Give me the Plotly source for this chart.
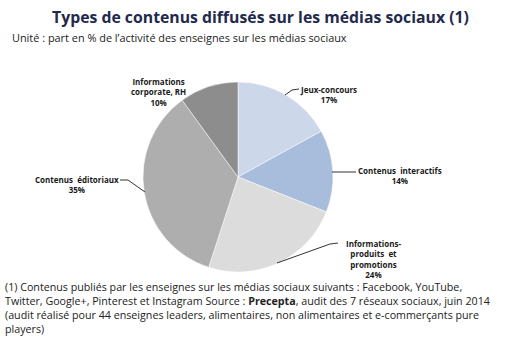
import plotly.graph_objects as go

categories = ["Jeux-concours", "Contenus interactifs", "Informations-produits et promotions",
              "Contenus éditoriaux", "Informations corporate, RH"]
values = [17, 14, 24, 35, 10]
colors = ["#cdd7ea", "#a8bcdc", "#dcdcdc", "#aeaeae", "#8d8d8d"]
label_texts = ["Jeux-concours<br>17%", "Contenus  interactifs<br>14%",
               "Informations-<br>produits  et<br>promotions<br>24%",
               "Contenus  éditoriaux<br>35%", "Informations<br>corporate, RH<br>10%"]
footnote_lines = [
    "(1) Contenus publiés par les enseignes sur les médias sociaux suivants : Facebook, YouTube,",
    "Twitter, Google+, Pinterest et Instagram Source : <b>Precepta</b>, audit des 7 réseaux sociaux, juin 2014",
    "(audit réalisé pour 44 enseignes leaders, alimentaires, non alimentaires et e-commerçants pure",
    "players)",
]

W, H = 509, 350
cx, cy, r = 238, 177, 95

def px(x):
    return x / W

def py(y):
    return 1 - y / H

fig = go.Figure(go.Pie(
    labels=categories, values=values, sort=False, direction="clockwise", rotation=0,
    marker=dict(colors=colors, line=dict(color="white", width=0.5)),
    textinfo="none", hoverinfo="label+percent", showlegend=False,
    domain=dict(x=[px(cx - r), px(cx + r)], y=[py(cy + r), py(cy - r)]),
))

font_lbl = dict(family="Open Sans", size=8, color="#1a1a1a")
lbl_pos = [(328, 94), (400, 175), (373, 259), (77, 184), (158, 92)]
leaders = [[(285, 95), (292, 90), (299, 89)],
           [(332, 172), (356, 172)],
           [(277, 263), (330, 244), (338, 243)],
           [(145, 192), (128, 180), (120, 180)],
           []]
for t, (x, y) in zip(label_texts, lbl_pos):
    fig.add_annotation(x=px(x), y=py(y), xref="paper", yref="paper", text="<b>" + t + "</b>",
                       showarrow=False, font=font_lbl, align="center", xanchor="center", yanchor="middle")
for pts in leaders:
    if len(pts) < 2:
        continue
    path = "M " + " L ".join(f"{px(x)} {py(y)}" for x, y in pts)
    fig.add_shape(type="path", path=path, xref="paper", yref="paper",
                  line=dict(color="#333333", width=1))

fig.add_annotation(x=px(260), y=py(17), xref="paper", yref="paper",
                   text="<b>Types de contenus diffusés sur les médias sociaux (1)</b>",
                   showarrow=False, font=dict(family="Open Sans", size=15.8, color="#1f2a4d"),
                   xanchor="center", yanchor="middle")
fig.add_annotation(x=px(10), y=py(38), xref="paper", yref="paper",
                   text="Unité : part en % de l’activité des enseignes sur les médias sociaux",
                   showarrow=False, font=dict(family="Open Sans", size=10.9, color="#222222"),
                   xanchor="left", yanchor="middle")
fig.add_annotation(x=px(3), y=py(278), xref="paper", yref="paper", text="<br>".join(footnote_lines),
                   showarrow=False, font=dict(family="Open Sans", size=10.7, color="#222222"),
                   xanchor="left", yanchor="top", align="left")

fig.update_layout(width=W, height=H, margin=dict(l=0, r=0, t=0, b=0),
                  paper_bgcolor="white", plot_bgcolor="white")
fig.write_html("out.html")
